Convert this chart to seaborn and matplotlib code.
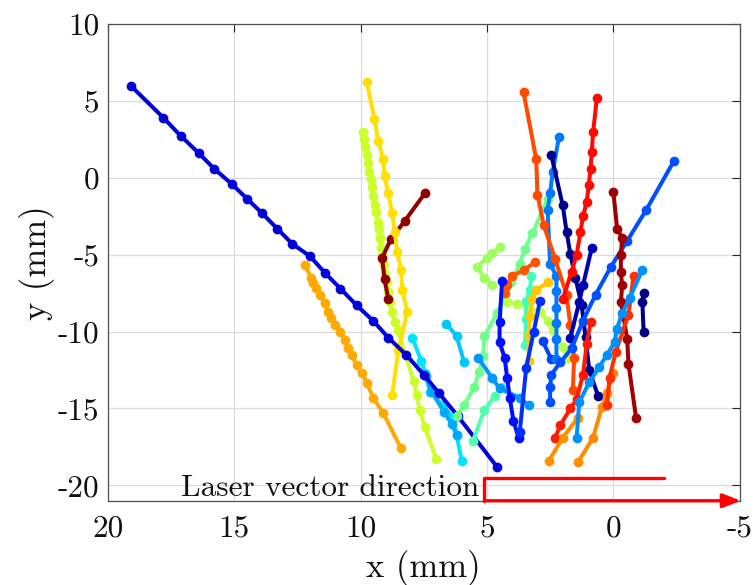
import matplotlib
matplotlib.use("Agg")
import matplotlib.pyplot as plt
import seaborn as sns
import pandas as pd

# trajectories (x, y in mm)
blue_long_x = [19.1, 17.8, 17.1, 16.4, 15.8, 15.1, 14.5, 13.9, 13.3, 12.7, 12.0, 11.4, 10.8, 10.15, 9.5, 8.9, 8.2, 7.5, 6.9, 6.15, 4.6]
blue_long_y = [6.0, 3.9, 2.7, 1.6, 0.6, -0.4, -1.35, -2.3, -3.3, -4.3, -5.1, -6.2, -7.2, -8.3, -9.3, -10.4, -11.5, -12.8, -14.0, -15.5, -18.8]

orange_left_x = [12.2, 11.95, 11.9, 11.75, 11.6, 11.4, 11.3, 11.15, 11.0, 10.8, 10.6, 10.5, 10.35, 10.15, 9.95, 9.75, 9.5, 9.1, 8.4]
orange_left_y = [-5.7, -6.5, -6.85, -7.15, -7.6, -8.15, -8.7, -9.1, -9.55, -10.0, -10.55, -11.05, -11.5, -12.2, -12.7, -13.35, -14.3, -15.3, -17.6]

yellow_x = [9.75, 9.45, 9.3, 9.1, 9.05, 8.9, 8.75, 8.65, 8.55, 8.4, 8.35, 8.15, 8.5, 8.75]
yellow_y = [6.2, 3.8, 2.4, 1.2, 0.1, -1.0, -2.3, -3.5, -4.8, -6.0, -7.3, -8.7, -11.2, -14.1]

lime_x = [9.9, 9.87, 9.83, 9.75, 9.72, 9.68, 9.6, 9.56, 9.52, 9.44, 9.4, 9.32, 9.28, 9.24, 9.2, 9.16, 9.08, 9.04, 8.96, 8.92, 8.84, 8.77, 8.65, 8.53, 7.9, 7.78, 7.66, 7.46, 7.0]
lime_y = [3.0, 2.5, 2.0, 1.45, 0.95, 0.4, -0.1, -0.6, -1.2, -1.75, -2.25, -2.85, -3.35, -3.9, -4.5, -5.05, -5.65, -6.25, -6.8, -7.4, -8.05, -8.7, -9.4, -9.9, -13.2, -14.1, -15.1, -16.2, -18.3]

darkred_a_x = [7.45, 8.25, 8.8, 9.15, 9.05, 8.9]
darkred_a_y = [-1.0, -2.8, -4.0, -5.2, -6.6, -7.9]

orangered_top_x = [3.55, 3.05, 3.0, 2.75, 2.3, 1.85, 1.7, 1.55, 1.6]
orangered_top_y = [5.55, 1.2, -1.1, -3.1, -5.3, -7.6, -9.6, -11.7, -13.8]

red_top_x = [0.65, 0.8, 0.85, 0.9, 0.97, 1.05, 1.2, 1.3, 1.45, 1.65, 2.0]
red_top_y = [5.2, 2.95, 1.7, 0.6, -0.5, -1.55, -2.5, -3.55, -5.0, -6.1, -7.9]

azure_long_x = [-2.4, -1.3, -0.55, 0.1, 0.7, 1.2, 1.65, 2.1, 2.45, 2.5, 2.5]
azure_long_y = [1.1, -2.1, -4.1, -5.8, -7.6, -9.3, -11.1, -12.0, -12.8, -13.6, -14.6]

navy_a_x = [2.45, 2.0, 1.85, 1.7, 1.5, 1.25, 1.1, 0.95, 0.6]
navy_a_y = [1.45, -1.8, -3.5, -4.95, -6.5, -8.3, -10.35, -12.5, -14.2]

azure_b_x = [2.15, 2.4, 2.5, 2.6, 2.5, 2.25, 2.25, 2.25, 2.25, 2.25, 2.25]
azure_b_y = [2.65, 0.35, -1.0, -2.1, -5.6, -6.4, -7.35, -8.45, -9.45, -10.5, -11.8]

skyblue_diag_x = [1.45, 1.35, 0.95, 0.55, 0.25, -0.05, -0.15, -0.35, -0.65, -1.15]
skyblue_diag_y = [-16.9, -14.6, -13.3, -12.3, -11.5, -10.7, -9.8, -8.8, -7.8, -6.0]

darkred_b_x = [0.0, -0.15, -0.35, -0.3, -0.3, -0.35, -0.3, -0.4, -0.55, -0.6, -0.9]
darkred_b_y = [-0.9, -3.3, -3.9, -5.0, -6.1, -7.0, -8.1, -9.0, -10.5, -12.1, -15.6]

redorange_x = [-0.8, -0.6, -0.1, 0.15, 0.25]
redorange_y = [-6.4, -8.9, -11.3, -13.0, -14.8]

orange_a_x = [1.4, 0.8, 0.45, 0.25, 0.0]
orange_a_y = [-18.5, -16.9, -14.9, -14.0, -12.7]

orange_b_x = [2.55, 2.0, 1.4]
orange_b_y = [-18.4, -16.9, -15.6]

navy_small_x = [-1.2, -1.15, -1.2]
navy_small_y = [-7.5, -8.1, -10.0]

navy_b_x = [0.85, 1.2, 1.35, 1.7]
navy_b_y = [-4.55, -7.0, -8.1, -10.4]

cyan_small_x = [6.6, 6.2, 5.9]
cyan_small_y = [-9.5, -10.3, -12.0]

cyan_long_x = [7.95, 7.6, 7.45, 7.25, 6.75, 6.35, 6.2, 6.0]
cyan_long_y = [-10.4, -11.9, -12.7, -13.9, -14.8, -15.6, -16.7, -18.4]

lightblue_a_x = [7.4, 7.2, 6.7, 6.4, 6.2]
lightblue_a_y = [-12.9, -13.9, -15.2, -16.0, -16.7]

aqua_low_x = [5.55, 5.1, 4.7, 4.4]
aqua_low_y = [-17.1, -15.1, -14.2, -13.6]

green_long_x = [2.6, 3.2, 3.5, 3.7, 4.05, 4.3, 4.6, 5.1, 5.15, 5.3, 5.5, 5.9, 6.2]
green_long_y = [-1.4, -3.6, -4.6, -5.6, -6.8, -7.8, -8.8, -10.3, -11.6, -12.6, -13.6, -14.8, -15.5]

lime_zig_x = [4.5, 4.8, 5.0, 5.4, 5.1, 4.8]
lime_zig_y = [-4.5, -4.9, -5.2, -5.8, -6.5, -7.0]

lime_b_x = [4.2, 3.8, 3.4, 2.9, 2.6, 2.4, 2.0, 1.8]
lime_b_y = [-8.1, -8.2, -8.4, -8.7, -9.3, -9.9, -11.0, -11.7]

gold_x = [2.6, 3.05, 3.2, 3.3, 3.35, 3.35]
gold_y = [-6.8, -7.3, -7.9, -9.0, -10.2, -11.9]

aqua_x = [3.25, 3.3, 3.45, 3.45, 3.5]
aqua_y = [-6.4, -7.3, -8.0, -9.2, -10.9]

blue_v_x = [4.4, 4.5, 4.5, 4.3, 4.2, 4.1, 3.95, 3.75]
blue_v_y = [-6.7, -9.4, -10.7, -11.7, -13.0, -14.3, -15.8, -16.9]

blue_up_x = [3.7, 3.45, 3.15, 2.9]
blue_up_y = [-16.5, -12.4, -10.0, -8.0]

lightblue_b_x = [5.35, 4.8, 4.5, 3.7, 3.35]
lightblue_b_y = [-11.7, -13.0, -13.7, -14.3, -14.8]

orangered_small_x = [3.1, 3.55, 4.0, 4.2, 4.3]
orangered_small_y = [-5.5, -6.0, -6.4, -7.0, -7.5]

red_low_x = [2.3, 2.1, 1.7, 1.45, 1.2, 1.05, 0.9]
red_low_y = [-16.9, -16.1, -15.0, -14.4, -12.8, -10.8, -9.4]

blue_short_x = [2.8, 2.45]
blue_short_y = [-10.6, -11.8]

# red "laser vector direction" bracket
laser_x = [-2.0, 5.1, 5.1, -4.6]
laser_y = [-19.5, -19.5, -21.0, -21.0]

x_ticks = [20, 15, 10, 5, 0, -5]
y_ticks = [10, 5, 0, -5, -10, -15, -20]

tracks = [
    ("orange_left", orange_left_x, orange_left_y, "#FFAA00"),
    ("lime", lime_x, lime_y, "#CCFF2A"),
    ("darkred_a", darkred_a_x, darkred_a_y, "#8F0000"),
    ("yellow", yellow_x, yellow_y, "#FFE000"),
    ("cyan_long", cyan_long_x, cyan_long_y, "#00E4FF"),
    ("lightblue_a", lightblue_a_x, lightblue_a_y, "#00A8FF"),
    ("blue_long", blue_long_x, blue_long_y, "#0000DD"),
    ("cyan_small", cyan_small_x, cyan_small_y, "#00C8FF"),
    ("aqua_low", aqua_low_x, aqua_low_y, "#50FFB0"),
    ("green_long", green_long_x, green_long_y, "#70FF8C"),
    ("lime_zig", lime_zig_x, lime_zig_y, "#A0FF60"),
    ("lime_b", lime_b_x, lime_b_y, "#B8FF48"),
    ("lightblue_b", lightblue_b_x, lightblue_b_y, "#0098FF"),
    ("orangered_small", orangered_small_x, orangered_small_y, "#FF5500"),
    ("aqua", aqua_x, aqua_y, "#40FFC0"),
    ("gold", gold_x, gold_y, "#FFC800"),
    ("blue_v", blue_v_x, blue_v_y, "#0010FF"),
    ("blue_up", blue_up_x, blue_up_y, "#0030FF"),
    ("blue_short", blue_short_x, blue_short_y, "#0040FF"),
    ("azure_b", azure_b_x, azure_b_y, "#0078FF"),
    ("navy_a", navy_a_x, navy_a_y, "#00008F"),
    ("orangered_top", orangered_top_x, orangered_top_y, "#FF4A00"),
    ("red_top", red_top_x, red_top_y, "#FF0A00"),
    ("navy_b", navy_b_x, navy_b_y, "#0000B0"),
    ("azure_long", azure_long_x, azure_long_y, "#0050FF"),
    ("red_low", red_low_x, red_low_y, "#FF1A00"),
    ("orange_b", orange_b_x, orange_b_y, "#FF9000"),
    ("orange_a", orange_a_x, orange_a_y, "#FF8C00"),
    ("darkred_b", darkred_b_x, darkred_b_y, "#A00000"),
    ("redorange", redorange_x, redorange_y, "#FF3000"),
    ("skyblue_diag", skyblue_diag_x, skyblue_diag_y, "#0090FF"),
    ("navy_small", navy_small_x, navy_small_y, "#000080"),
]

rows = []
for name, xs, ys, _ in tracks:
    for i, (xv, yv) in enumerate(zip(xs, ys)):
        rows.append({"track": name, "step": i, "x": xv, "y": yv})
df = pd.DataFrame(rows)
palette = {name: color for name, _, _, color in tracks}
order = [name for name, _, _, _ in tracks]

sns.set_theme(style="white")
plt.rcParams["font.family"] = ["cmr10", "DejaVu Serif"]
plt.rcParams["axes.unicode_minus"] = False
plt.rcParams["axes.formatter.use_mathtext"] = True

fig = plt.figure(figsize=(7.54, 5.85), dpi=100)
ax = fig.add_axes([0.143, 0.144, 0.838, 0.815])

sns.lineplot(
    data=df, x="x", y="y", hue="track", hue_order=order, palette=palette,
    estimator=None, sort=False, marker="o", markersize=7,
    markeredgewidth=0, linewidth=2.9, legend=False, ax=ax,
)

# laser direction bracket with arrowhead
ax.plot(laser_x[:3], laser_y[:3], color="red", linewidth=2.4, clip_on=False, zorder=5)
ax.annotate(
    "", xy=(laser_x[3] - 0.45, laser_y[3]), xytext=(laser_x[2], laser_y[2]),
    arrowprops=dict(arrowstyle="-|>,head_length=0.9,head_width=0.35", color="red", lw=2.4,
                    shrinkA=0, shrinkB=0),
    annotation_clip=False, zorder=5,
)
ax.text(5.3, -20.15, "Laser vector direction", ha="right", va="center", fontsize=22.5, color="#111111")

ax.set_xlim(20, -5)
ax.set_ylim(-21, 10)
ax.set_xticks(x_ticks)
ax.set_yticks(y_ticks)
ax.set_xticklabels([str(t) for t in x_ticks])
ax.set_yticklabels([str(t) for t in y_ticks])
ax.grid(True, color="#dcdcdc", linewidth=0.9)
ax.set_axisbelow(True)
ax.tick_params(direction="in", length=6, width=0.8, top=True, right=True,
               labelsize=22.5, colors="#262626", labelcolor="#111111")
ax.tick_params(axis="x", pad=10)
ax.tick_params(axis="y", pad=6)
for sp in ax.spines.values():
    sp.set_color("#505050")
    sp.set_linewidth(0.9)

ax.set_xlabel("x (mm)", fontsize=25, color="#111111", labelpad=5)
ax.set_ylabel("y (mm)", fontsize=25, color="#111111", labelpad=2)

fig.savefig("out.png", dpi=100)
